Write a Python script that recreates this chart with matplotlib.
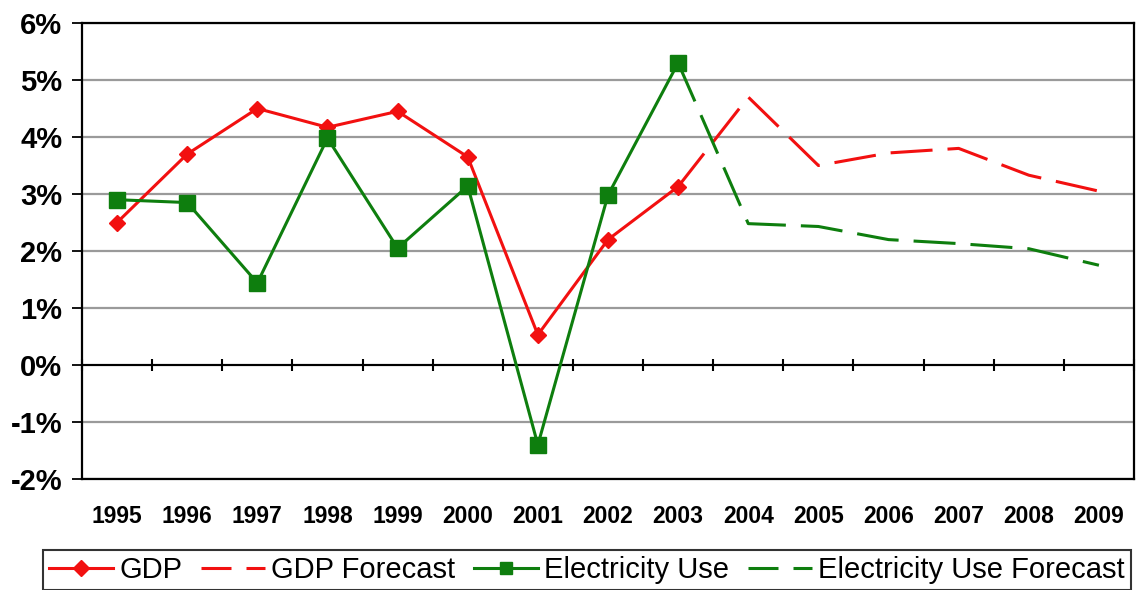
import matplotlib
matplotlib.use("Agg")
import matplotlib.pyplot as plt
from matplotlib.lines import Line2D
import numpy as np

# Annual growth, percent
years = ["1995", "1996", "1997", "1998", "1999", "2000", "2001", "2002",
         "2003", "2004", "2005", "2006", "2007", "2008", "2009"]
gdp = [2.50, 3.70, 4.50, 4.17, 4.45, 3.65, 0.53, 2.20, 3.13]
gdp_forecast = [3.13, 4.70, 3.50, 3.72, 3.80, 3.33, 3.05]
elec_use = [2.90, 2.85, 1.44, 3.98, 2.05, 3.14, -1.40, 2.98, 5.30]
elec_forecast = [5.30, 2.48, 2.43, 2.20, 2.13, 2.04, 1.75]
y_ticks = [-2, -1, 0, 1, 2, 3, 4, 5, 6]

RED = "#F21010"
GREEN = "#0E7E0E"
W, H, DPI = 1136, 590, 100
PX = 72.0 / DPI  # points per pixel

plt.rcParams["font.family"] = ["Liberation Sans", "DejaVu Sans"]
plt.rcParams["lines.scale_dashes"] = False

fig = plt.figure(figsize=(W / DPI, H / DPI), dpi=DPI)
ax = fig.add_axes([82 / W, 1 - 479 / H, 1052 / W, 456 / H])

x_all = np.arange(len(years))
x_hist = x_all[:len(gdp)]
x_fc = x_all[len(gdp) - 1:]

lw = 2.2
fc_dash = (0, (42 * PX, 15 * PX))
leg_dash = (0, (30 * PX, 15 * PX))

ax.plot(x_hist, gdp, color=RED, lw=lw, marker="D", ms=8,
        mec=RED, mfc=RED, zorder=4)
ax.plot(x_fc, gdp_forecast, color=RED, lw=lw, ls=fc_dash, zorder=4)
ax.plot(x_hist, elec_use, color=GREEN, lw=lw, marker="s", ms=12,
        mec=GREEN, mfc=GREEN, zorder=5)
ax.plot(x_fc, elec_forecast, color=GREEN, lw=lw, ls=fc_dash, zorder=5)

# Axes limits and gridlines
ax.set_xlim(-0.5, len(years) - 0.5)
ax.set_ylim(y_ticks[0], y_ticks[-1])
ax.set_yticks(y_ticks)
ax.set_yticklabels([f"{v}%" for v in y_ticks])
ax.yaxis.grid(True, color="#9a9a9a", lw=1.6)
ax.set_axisbelow(True)

# Category axis along the zero line, tick marks between categories
ax.axhline(0, color="black", lw=1.5, zorder=3)
bounds = np.arange(len(years) + 1) - 0.5
ax.plot(bounds, np.zeros_like(bounds), ls="none", marker="|", ms=12 * PX,
        mew=1.5, color="black", zorder=3, clip_on=False)

ax.set_xticks(x_all)
ax.set_xticklabels(years, fontweight="bold", fontsize=16.5)
ax.tick_params(axis="x", length=0, pad=19)
ax.tick_params(axis="y", length=10 * PX, width=1.3, pad=7,
               labelsize=21, direction="out")
for lab in ax.get_yticklabels():
    lab.set_fontweight("bold")

for s in ax.spines.values():
    s.set_color("black")
    s.set_linewidth(1.6)

# Legend
handles = [
    Line2D([], [], color=RED, lw=lw, marker="D", ms=8, mec=RED, mfc=RED),
    Line2D([], [], color=RED, lw=lw, ls=leg_dash),
    Line2D([], [], color=GREEN, lw=lw, marker="s", ms=9, mec=GREEN, mfc=GREEN),
    Line2D([], [], color=GREEN, lw=lw, ls=leg_dash),
]
labels = ["GDP", "GDP Forecast", "Electricity Use", "Electricity Use Forecast"]
leg = fig.legend(handles, labels, loc="center",
                 bbox_to_anchor=(587 / W, 1 - 570 / H), ncol=4,
                 fontsize=21, frameon=True, fancybox=False, shadow=False,
                 handlelength=2.2, handletextpad=0.2, columnspacing=0.65,
                 borderpad=0.22, borderaxespad=0, numpoints=1)
leg.get_frame().set_edgecolor("black")
leg.get_frame().set_linewidth(1.5)

fig.savefig("out.png", dpi=DPI, facecolor="white")
